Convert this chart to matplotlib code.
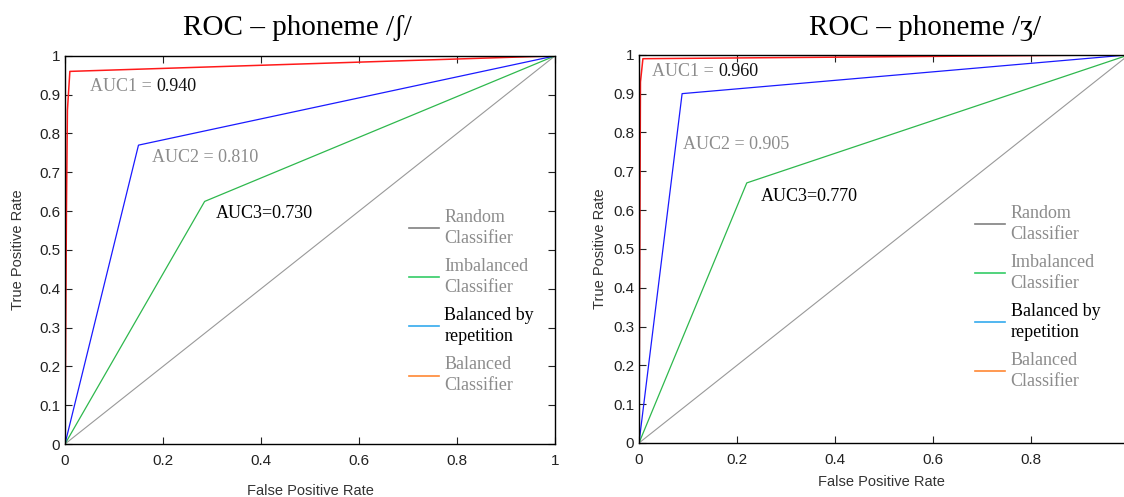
import matplotlib
matplotlib.use("Agg")
import matplotlib.pyplot as plt
from matplotlib.lines import Line2D

# ROC points
sh_random_x = [0, 1]
sh_random_y = [0, 1]
sh_imb_x = [0, 0.285, 1]
sh_imb_y = [0, 0.625, 1]
sh_rep_x = [0, 0.15, 1]
sh_rep_y = [0, 0.77, 1]
sh_bal_x = [0, 0.003, 0.005, 0.01, 1]
sh_bal_y = [0, 0.60, 0.86, 0.96, 1]

zh_random_x = [0, 1]
zh_random_y = [0, 1]
zh_imb_x = [0, 0.22, 1]
zh_imb_y = [0, 0.67, 1]
zh_rep_x = [0, 0.088, 1]
zh_rep_y = [0, 0.90, 1]
zh_bal_x = [0, 0.003, 0.008, 1]
zh_bal_y = [0, 0.93, 0.99, 1]

sh_auc = ["0.940", "0.810", "0.730"]
zh_auc = ["0.960", "0.905", "0.770"]

legend_labels = ["Random\nClassifier", "Imbalanced\nClassifier",
                 "Balanced by\nrepetition", "Balanced\nClassifier"]
legend_colors = ["#808080", "#33cc66", "#33aaee", "#ff8833"]
legend_text_colors = ["#8c8c8c", "#8c8c8c", "black", "#8c8c8c"]

xticks = [0, 0.2, 0.4, 0.6, 0.8, 1]
yticks = [0, 0.1, 0.2, 0.3, 0.4, 0.5, 0.6, 0.7, 0.8, 0.9, 1]

SERIF = ["Liberation Serif", "DejaVu Serif"]
plt.rcParams["font.family"] = ["Liberation Sans", "DejaVu Sans"]

fig = plt.figure(figsize=(11.24, 4.97), dpi=100)
ax1 = fig.add_axes([0.0578, 0.1066, 0.436, 0.781])
ax2 = fig.add_axes([0.5685, 0.1087, 0.4315, 0.781])


def tick_fmt(v):
    return "%g" % v


def draw(ax, rnd, imb, rep, bal, xmax, leg_anchor):
    ax.plot(*rnd, color="#999999", lw=0.8)
    ax.plot(*imb, color="#2eb84d", lw=0.9)
    ax.plot(*rep, color="#1a1aff", lw=0.9)
    ax.plot(*bal, color="#ff1a1a", lw=1.1)
    ax.set_xlim(0, xmax)
    ax.set_ylim(0, 1)
    ax.set_xticks([t for t in xticks if t <= xmax])
    ax.set_xticklabels([tick_fmt(t) for t in xticks if t <= xmax])
    ax.set_yticks(yticks)
    ax.set_yticklabels([tick_fmt(t) for t in yticks])
    ax.tick_params(direction="in", length=5, width=0.8, labelsize=11,
                   top=True, right=True, colors="#222222")
    ax.tick_params(axis="x", pad=7)
    ax.set_ylabel("True Positive Rate", fontsize=10.5, color="#333333", labelpad=10)
    for s in ax.spines.values():
        s.set_linewidth(1.0)
    handles = [Line2D([], [], color=c, lw=1.2) for c in legend_colors]
    leg = ax.legend(handles, legend_labels, frameon=False,
                    prop={"family": SERIF, "size": 13},
                    handlelength=1.65, handletextpad=0.3, labelspacing=0.62,
                    loc="upper left", bbox_to_anchor=leg_anchor)
    for t, c in zip(leg.get_texts(), legend_text_colors):
        t.set_color(c)
        t.set_linespacing(1.3)


draw(ax1, (sh_random_x, sh_random_y), (sh_imb_x, sh_imb_y),
     (sh_rep_x, sh_rep_y), (sh_bal_x, sh_bal_y), 1.0, (0.669, 0.647))
draw(ax2, (zh_random_x, zh_random_y), (zh_imb_x, zh_imb_y),
     (zh_rep_x, zh_rep_y), (zh_bal_x, zh_bal_y), 0.99, (0.66, 0.655))
ax1.set_xlabel("False Positive Rate", fontsize=10.5, color="#333333", labelpad=12)
ax2.set_xlabel("False Positive Rate", fontsize=10.5, color="#333333", labelpad=6)
ax2.set_ylabel("True Positive Rate", fontsize=10.5, color="#333333", labelpad=4)
ax2.spines["right"].set_visible(False)
ax2.tick_params(right=False)


def auc_labels(ax, vals, pos):
    # AUC1: grey prefix, dark value
    x, y = pos[0]
    t = ax.text(x, y, "AUC1 = ", family=SERIF, fontsize=13, color="#8c8c8c",
                va="center", ha="left")
    ax.annotate(vals[0], xycoords=t, xy=(1, 0.5), va="center", ha="left",
                family=SERIF, fontsize=13, color="#111111")
    x, y = pos[1]
    ax.text(x, y, "AUC2 = " + vals[1], family=SERIF, fontsize=13,
            color="#8c8c8c", va="center", ha="left")
    x, y = pos[2]
    ax.text(x, y, "AUC3=" + vals[2], family=SERIF, fontsize=13,
            color="black", va="center", ha="left")


auc_labels(ax1, sh_auc, [(0.051, 0.92), (0.178, 0.737), (0.308, 0.595)])
auc_labels(ax2, zh_auc, [(0.027, 0.956), (0.09, 0.768), (0.249, 0.634)])

fig.text(297 / 1124, 1 - 28 / 497, "ROC \u2013 phoneme /\u0283/", family=SERIF,
         fontsize=21, ha="center", va="center")
fig.text(925 / 1124, 1 - 28 / 497, "ROC \u2013 phoneme /\u0292/", family=SERIF,
         fontsize=21, ha="center", va="center")

fig.savefig("out.png", dpi=100)
